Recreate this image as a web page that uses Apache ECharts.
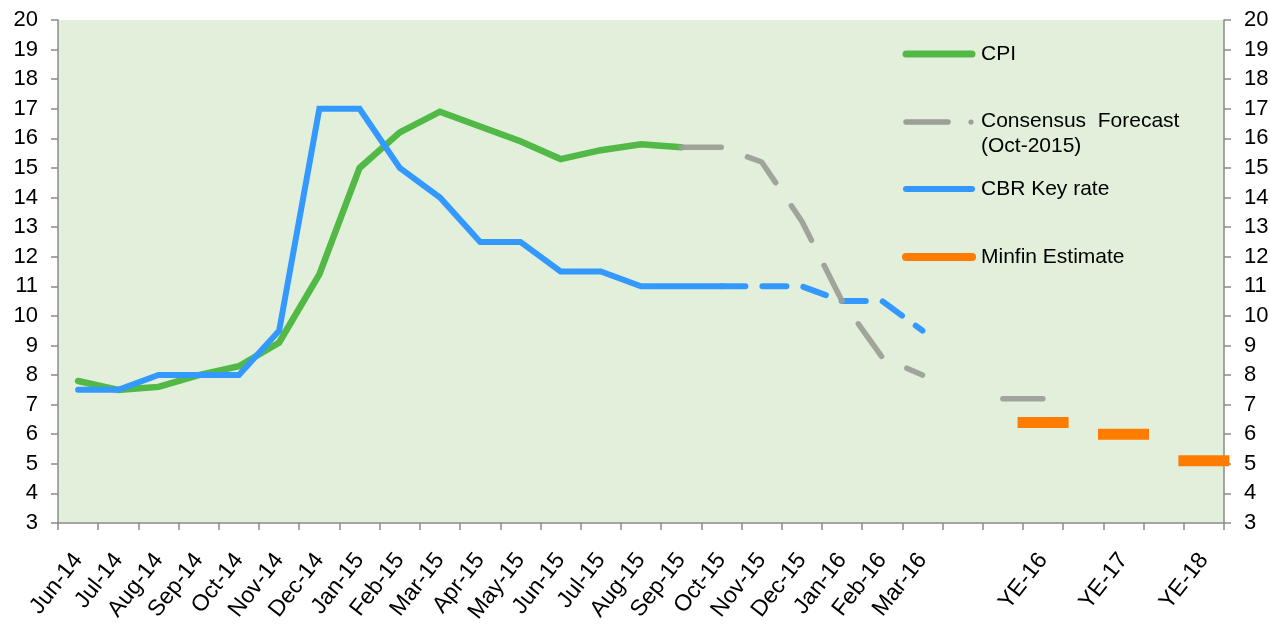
<!DOCTYPE html>
<html>
<head>
<meta charset="utf-8">
<script src="https://cdn.jsdelivr.net/npm/echarts@6/dist/echarts.min.js"></script>
<style>
  html, body { margin: 0; padding: 0; background: #ffffff; }
  #chart { width: 1270px; height: 629px; }
</style>
</head>
<body>
<div id="chart"></div>
<script>
// Month / year-end categories (blank slots keep the spacing before and between year-ends)
const categories = [
  'Jun-14', 'Jul-14', 'Aug-14', 'Sep-14', 'Oct-14', 'Nov-14', 'Dec-14',
  'Jan-15', 'Feb-15', 'Mar-15', 'Apr-15', 'May-15', 'Jun-15', 'Jul-15',
  'Aug-15', 'Sep-15', 'Oct-15', 'Nov-15', 'Dec-15', 'Jan-16', 'Feb-16', 'Mar-16',
  '', '', 'YE-16', '', 'YE-17', '', 'YE-18'
];

// CPI, % y/y, Jun-14 .. Sep-15
const cpiValues = [7.8, 7.5, 7.6, 8.0, 8.3, 9.1, 11.4, 15.0, 16.2, 16.9, 16.4, 15.9, 15.3, 15.6, 15.8, 15.7];

// Consensus forecast (Oct-2015), starting at Sep-15; last two points form the YE-16 level
const consensusStart = 15;
const consensusValues = [15.7, 15.7, 15.2, 13.2, 10.5, 8.6, 8.0, null, 7.2, 7.2];

// CBR key rate: actual Jun-14 .. Oct-15, expected path Oct-15 .. Mar-16
const keyRateActual = [7.5, 7.5, 8.0, 8.0, 8.0, 9.5, 17.0, 17.0, 15.0, 14.0, 12.5, 12.5, 11.5, 11.5, 11.0, 11.0, 11.0];
const keyRatePathStart = 16;
const keyRatePath = [11.0, 11.0, 11.0, 10.5, 10.5, 9.5];

// Ministry of Finance year-end inflation estimates
const minfinLabels = ['YE-16', 'YE-17', 'YE-18'];
const minfinValues = [6.4, 6.0, 5.1];

const seriesNames = ['CPI', 'Consensus  Forecast\n(Oct-2015)', 'CBR Key rate', 'Minfin Estimate'];

const COLORS = {
  cpi: '#52b947',
  consensus: '#9c9f98',
  keyRate: '#3399ff',
  minfin: '#ff7c00',
  plotBg: '#e2efda',
  axis: '#8a8a8a'
};
const FONT = '"Liberation Sans", Arial, sans-serif';
const LEGEND_FONT_SIZE = 21;
const Y_FONT_SIZE = 22;
const X_FONT_SIZE = 23;

// place a run of values into a full-length category array
function placeAt(start, values) {
  const out = new Array(categories.length).fill(null);
  values.forEach((v, i) => { out[start + i] = v; });
  return out;
}

const chart = echarts.init(document.getElementById('chart'), null, { renderer: 'canvas' });

const yAxisBase = {
  type: 'value',
  min: 3,
  max: 20,
  interval: 1,
  axisLine: { show: true, lineStyle: { color: COLORS.axis, width: 1.5 } },
  axisTick: { show: true, length: 7, lineStyle: { color: COLORS.axis, width: 1.5 } },
  splitLine: { show: false },
  axisLabel: { color: '#000', fontFamily: FONT, fontSize: Y_FONT_SIZE, margin: 20 }
};

// legend drawn as a column of swatches with labels
const legendX = 906, legendTextX = 981;
const legendFont = LEGEND_FONT_SIZE + 'px ' + FONT;
const legendGraphics = [
  { type: 'line', shape: { x1: legendX, y1: 54, x2: 972, y2: 54 },
    style: { stroke: COLORS.cpi, lineWidth: 7, lineCap: 'round' } },
  { type: 'text', x: legendTextX, y: 54,
    style: { text: seriesNames[0], font: legendFont, fill: '#000', verticalAlign: 'middle' } },

  { type: 'line', shape: { x1: legendX, y1: 122, x2: 948, y2: 122 },
    style: { stroke: COLORS.consensus, lineWidth: 5.5, lineCap: 'round' } },
  { type: 'circle', shape: { cx: 971, cy: 122, r: 2.6 },
    style: { fill: COLORS.consensus } },
  { type: 'text', x: legendTextX, y: 109,
    style: { text: seriesNames[1], font: legendFont, fill: '#000', lineHeight: 25, verticalAlign: 'top' } },

  { type: 'line', shape: { x1: legendX, y1: 189, x2: 972, y2: 189 },
    style: { stroke: COLORS.keyRate, lineWidth: 6, lineCap: 'round' } },
  { type: 'text', x: legendTextX, y: 189,
    style: { text: seriesNames[2], font: legendFont, fill: '#000', verticalAlign: 'middle' } },

  { type: 'line', shape: { x1: legendX, y1: 257, x2: 972, y2: 257 },
    style: { stroke: COLORS.minfin, lineWidth: 8, lineCap: 'round' } },
  { type: 'text', x: legendTextX, y: 257,
    style: { text: seriesNames[3], font: legendFont, fill: '#000', verticalAlign: 'middle' } }
];

const option = {
  animation: false,
  backgroundColor: '#ffffff',
  textStyle: { fontFamily: FONT },
  grid: {
    left: 58, right: 46, top: 20, bottom: 106,
    containLabel: false,
    outerBoundsMode: 'none',
    show: true,
    backgroundColor: COLORS.plotBg,
    borderWidth: 0
  },
  xAxis: {
    type: 'category',
    data: categories,
    boundaryGap: true,
    axisLine: { show: true, lineStyle: { color: COLORS.axis, width: 1.5 } },
    axisTick: { show: true, interval: 0, length: 7, lineStyle: { color: COLORS.axis, width: 1.5 } },
    axisLabel: {
      interval: 0, rotate: 52, color: '#000', fontFamily: FONT, fontSize: X_FONT_SIZE, margin: 33
    },
    splitLine: { show: false }
  },
  yAxis: [
    Object.assign({}, yAxisBase, { position: 'left' }),
    Object.assign({}, yAxisBase, { position: 'right' })
  ],
  series: [
    {
      name: 'CPI',
      type: 'line',
      data: placeAt(0, cpiValues),
      showSymbol: false,
      symbol: 'none',
      z: 2,
      lineStyle: { color: COLORS.cpi, width: 6.5, cap: 'round', join: 'miter' }
    },
    {
      name: 'CBR Key rate',
      type: 'line',
      data: placeAt(0, keyRateActual),
      showSymbol: false,
      symbol: 'none',
      z: 3,
      lineStyle: { color: COLORS.keyRate, width: 6, cap: 'round', join: 'miter' }
    },
    {
      name: 'CBR Key rate (path)',
      type: 'line',
      data: placeAt(keyRatePathStart, keyRatePath),
      showSymbol: false,
      symbol: 'none',
      z: 3,
      lineStyle: { color: COLORS.keyRate, width: 6, cap: 'round', type: [24, 17], join: 'round' }
    },
    {
      name: 'Consensus',
      type: 'line',
      data: placeAt(consensusStart, consensusValues),
      showSymbol: false,
      symbol: 'none',
      connectNulls: false,
      z: 4,
      lineStyle: { color: COLORS.consensus, width: 5.5, cap: 'round', type: [40, 28], join: 'round', opacity: 0.95 }
    },
    {
      name: 'Minfin Estimate',
      type: 'scatter',
      data: minfinLabels.map((c, i) => [c, minfinValues[i]]),
      symbol: 'rect',
      symbolSize: [51, 11],
      z: 5,
      itemStyle: { color: COLORS.minfin, opacity: 1 }
    }
  ],
  graphic: legendGraphics
};

chart.setOption(option);
</script>
</body>
</html>
